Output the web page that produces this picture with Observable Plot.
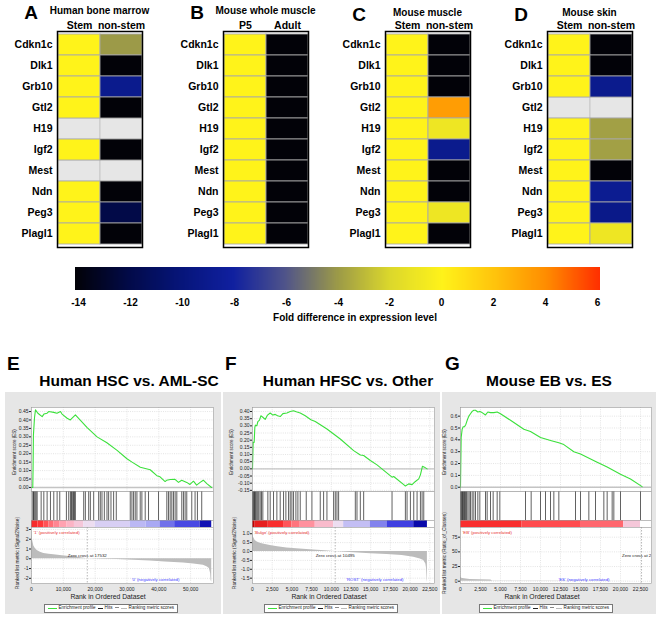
<!DOCTYPE html>
<html><head><meta charset="utf-8">
<script src="https://cdn.jsdelivr.net/npm/d3@7"></script>
<script src="https://cdn.jsdelivr.net/npm/@observablehq/plot@0.6"></script>
<style>
body{margin:0;background:#fff;}
#root{position:relative;width:661px;height:621px;overflow:hidden;background:#fff;font-family:"Liberation Sans",Arial,sans-serif;}
</style></head><body><div id="root"></div>
<script>
// ---------- heatmap data ----------
const genes = ["Cdkn1c","Dlk1","Grb10","Gtl2","H19","Igf2","Mest","Ndn","Peg3","Plagl1"];
const boneMarrowStem    = [0,0,0,0,null,0,null,0,0,0];
const boneMarrowNonStem = [-4,-14,-9,-14,null,-14,null,-14,-12,-14];
const wholeMuscleP5     = [0,0,0,0,0,0,0,0,0,0];
const wholeMuscleAdult  = [-14,-14,-14,-14,-14,-14,-14,-14,-14,-14];
const muscleStem        = [0,0,0,0,0,0,0,0,0,0];
const muscleNonStem     = [-14,-14,-14,3.4,-1,-9,-14,-14,-1,-14];
const skinStem          = [0,0,0,null,0,0,0,0,0,0];
const skinNonStem       = [-14,-14,-9,null,-3.8,-3.8,-14,-8.8,-9.2,-1];
const foldTicks = [-14,-12,-10,-8,-6,-4,-2,0,2,4,6];

// ---------- GSEA data ----------
const esE = [[0,0],[400,0],[500,0.12],[600,0.31],[800,0.37],[950,0.415],[1250,0.46],[2000,0.44],[3350,0.42],[3900,0.435],[4900,0.44],[5400,0.45],[7000,0.445],[8000,0.44],[9100,0.45],[9600,0.435],[11200,0.41],[12200,0.40],[13000,0.415],[13800,0.43],[14300,0.42],[17500,0.355],[20600,0.30],[23700,0.265],[26900,0.22],[30000,0.17],[31600,0.15],[34200,0.12],[37300,0.105],[39400,0.07],[40400,0.063],[42000,0.035],[42500,0.043],[43600,0.047],[45100,0.048],[46200,0.03],[47200,0.043],[48800,0.03],[49800,0.018],[50900,0.037],[51900,0.014],[53000,0.03],[54000,0.043],[55100,0.023],[56600,0]];
const hitsE = [420,630,840,1150,1460,1780,3030,3870,4910,5960,7000,8050,8880,10970,11700,12230,12540,12750,13060,13270,13480,13790,16410,16930,17970,18500,19540,21110,21630,22150,22890,23720,24240,24980,25810,26650,31040,31560,32080,32600,33130,34170,34690,35740,36780,39920,42530,43050,43580,44100,44620,45140,45670,47230,47760,48280,48800,50370,51410,52150,53500];
const metricE = [[0,3.0],[150,2.4],[400,1.8],[730,1.3],[1200,1.05],[1780,0.85],[2800,0.68],[3870,0.55],[5500,0.47],[7000,0.4],[9000,0.33],[11180,0.27],[14000,0.17],[16500,0.06],[17532,0],[22000,-0.04],[26860,-0.07],[32000,-0.14],[37300,-0.23],[42000,-0.32],[47760,-0.43],[51000,-0.53],[54030,-0.67],[55300,-0.85],[55900,-1.0],[56300,-1.5],[56430,-2.2],[56640,-2.4]];
const barE = [[0,2000,0.72],[2000,3900,0.66],[3900,5500,0.58],[5500,7000,0.5],[7000,9000,0.43],[9000,11200,0.35],[11200,13500,0.26],[13500,16400,0.15],[16400,20000,0.02],[20000,31000,-0.1],[31000,36000,-0.24],[36000,40400,-0.33],[40400,45000,-0.5],[45000,53000,-0.62],[53000,56640,-0.9]];
const zeroE = 17532;

const esF = [[0,0],[85,0.185],[212,0.185],[297,0.29],[381,0.305],[550,0.30],[678,0.33],[890,0.34],[1060,0.37],[1313,0.36],[1610,0.345],[1907,0.375],[2246,0.39],[2585,0.375],[2880,0.38],[3178,0.37],[3517,0.365],[3856,0.385],[4364,0.39],[4788,0.40],[5211,0.405],[5550,0.398],[6059,0.39],[6694,0.37],[7415,0.343],[7966,0.33],[9450,0.278],[11143,0.208],[12838,0.127],[13685,0.097],[14109,0.093],[14956,0.058],[15804,0.028],[17710,-0.058],[17922,-0.053],[19194,-0.11],[19405,-0.12],[19829,-0.105],[20253,-0.11],[20676,-0.088],[21100,-0.07],[21312,-0.042],[21566,0.018],[21820,0.012],[22160,0]];
const hitsF = [0,85,170,254,339,424,551,678,805,975,1144,1313,1949,2246,2669,3093,3517,3940,4237,4576,4788,5000,5211,5508,5762,6059,6822,7542,8601,9025,9449,10296,10508,10720,10931,13050,13262,13685,14109,17711,19405,19617,20041,20465,20889,21312,21524,21736];
const metricF = [[0,1.1],[127,0.8],[339,0.62],[600,0.54],[975,0.47],[1500,0.41],[2246,0.34],[3200,0.27],[4364,0.2],[6000,0.14],[7754,0.09],[9200,0.04],[10495,0],[12840,-0.07],[15000,-0.12],[17075,-0.17],[19000,-0.23],[20465,-0.32],[21300,-0.42],[21736,-0.5],[22000,-0.7],[22075,-0.9],[22160,-1.6],[22200,-1.75]];
const barF = [[0,340,1],[340,2000,0.8],[2000,3940,0.7],[3940,5000,0.57],[5000,6060,0.48],[6060,7965,0.4],[7965,10300,0.22],[10300,11570,0.02],[11570,14960,-0.2],[14960,17075,-0.45],[17075,20465,-0.65],[20465,22200,-0.95]];
const zeroF = 10495;

const esG = [[0,0],[83,0.42],[208,0.49],[333,0.51],[500,0.51],[667,0.53],[833,0.565],[1042,0.60],[1250,0.62],[1458,0.64],[1667,0.65],[1875,0.65],[2167,0.635],[2417,0.64],[2700,0.63],[3125,0.61],[3417,0.635],[3750,0.63],[4167,0.63],[4583,0.635],[5000,0.62],[6250,0.565],[7917,0.49],[8750,0.47],[10000,0.42],[11250,0.395],[12290,0.375],[12917,0.36],[14167,0.30],[15000,0.28],[17083,0.21],[18333,0.17],[20000,0.11],[21250,0.07],[22700,0.005]];
const hitsG = [0,83,167,250,333,417,500,625,750,917,1083,1250,1458,1667,1875,2167,2417,3125,3333,3750,4083,4583,4917,8125,8833,10000,10625,11250,11667,12292,14375,15000,16042,16875,17917,18333,18958,19167,20000,22500];
const metricG = [[0,7],[150,5],[500,4],[1200,3],[2500,2.5],[3800,2],[4000,0.4],[10000,0.2],[22630,0]];
const barG = [[0,7700,0.7],[7700,15000,0.6],[15000,20400,0.52],[20400,22500,0.15]];
const zeroG = 22630;

// ---------- helpers ----------
const root = document.getElementById("root");
const SANS = "'Liberation Sans', Arial, sans-serif";
function put(el, left, top) {
  el.style.position = "absolute"; el.style.left = left + "px"; el.style.top = top + "px";
  root.appendChild(el); return el;
}
function label(s, x, y, o = {}) {
  const d = document.createElement("div");
  d.textContent = s;
  const a = o.anchor || "middle";
  const tx = a === "start" ? "0" : a === "end" ? "-100%" : "-50%";
  Object.assign(d.style, {position: "absolute", left: x + "px", top: y + "px", whiteSpace: "nowrap",
    lineHeight: "1", fontFamily: SANS, fontSize: (o.size || 10) + "px", fontWeight: o.weight || "normal",
    color: o.color || "#000", transform: `translate(${tx},-50%)` + (o.rotate ? ` rotate(${o.rotate}deg)` : "")});
  root.appendChild(d); return d;
}
function box(x, y, w, h, bg) {
  const d = document.createElement("div");
  Object.assign(d.style, {position: "absolute", left: x + "px", top: y + "px", width: w + "px", height: h + "px", background: bg});
  root.appendChild(d); return d;
}

const foldColors = ["#020208","#020a48","#06157a","#1020a0","#50548a","#9c9a48","#dcd82c","#fff31a","#ffc40c","#ff8c00","#ff3000"];

// ---------- heatmaps ----------
function heatmap(letter, title, cols, v1, v2, frameLeft, titleY) {
  const data = genes.flatMap((g, i) => [{gene: g, col: cols[0], value: v1[i]}, {gene: g, col: cols[1], value: v2[i]}]);
  const W = 148;
  const p = Plot.plot({
    width: W, height: 250, marginLeft: 57, marginRight: W - 57 - 85, marginTop: 31, marginBottom: 3,
    style: {background: "transparent", fontFamily: SANS, fontSize: "10.5px", fontWeight: "bold", color: "#000"},
    x: {domain: cols, axis: "top", label: null, tickSize: 0, tickPadding: 3, padding: 0},
    y: {domain: genes, label: null, tickSize: 0, tickPadding: 5, padding: 0},
    color: {type: "linear", domain: [-14, 6], range: foldColors},
    marks: [
      Plot.cell(data.filter(d => d.value == null), {x: "col", y: "gene", fill: "#e6e6e6", stroke: "#c8c8c8", strokeWidth: 1}),
      Plot.cell(data.filter(d => d.value != null), {x: "col", y: "gene", fill: "value", stroke: "#a8a8a8", strokeWidth: 1, strokeOpacity: 0.85}),
      Plot.frame({stroke: "#000", strokeWidth: 1.5})
    ]
  });
  put(p, frameLeft - 57, 0);
  label(title, frameLeft + 42.5, titleY, {size: 10, weight: "bold"});
  label(letter, frameLeft - 26, titleY + 1, {size: 19, weight: "bold"});
}
heatmap("A", "Human bone marrow", ["Stem", "non-stem"], boneMarrowStem, boneMarrowNonStem, 57, 11);
heatmap("B", "Mouse whole muscle", ["P5", "Adult"], wholeMuscleP5, wholeMuscleAdult, 223, 11);
heatmap("C", "Mouse muscle", ["Stem", "non-stem"], muscleStem, muscleNonStem, 385, 12.5);
heatmap("D", "Mouse skin", ["Stem", "non-stem"], skinStem, skinNonStem, 547, 12.5);

// ---------- fold-difference colour bar ----------
const leg = Plot.legend({
  color: {type: "linear", domain: [-14.12, 6.12], range: foldColors, ticks: foldTicks, tickFormat: d => String(d), label: null},
  width: 661, height: 43, marginLeft: 75, marginRight: 61, marginTop: 0, marginBottom: 20,
  ticks: foldTicks, tickFormat: d => String(d), tickSize: 6, label: null,
  style: {background: "transparent", fontFamily: SANS, fontSize: "10px", fontWeight: "bold", color: "#000"}
});
leg.querySelectorAll(".tick line").forEach(e => e.remove());
put(leg, 0, 267);
label("Fold difference in expression level", 355, 318, {size: 10, weight: "bold"});

// ---------- GSEA panels ----------
const barColors = ["#0000a0","#3a3ae0","#a8a8f4","#ece0f4","#ffa8b8","#ff3434","#c00000"];
function gsea(c) {
  const W = c.gx1 - c.gx0, mL = c.fx0 - c.gx0, mR = c.gx1 - c.fx1;
  box(c.gx0, 392, W, 222, "#e6e6e6");
  label(c.letter, c.letterX, 363, {size: 19, weight: "bold", anchor: "start"});
  label(c.title, c.titleX, 381, {size: 15.5, weight: "bold"});
  const base = {width: W, marginLeft: mL, marginRight: mR,
    style: {background: "transparent", fontFamily: SANS, fontSize: "5px", color: "#222"}};
  const x = {domain: c.xDomain, label: null};
  const grid = {stroke: "#d2d2d2", strokeDasharray: "1,1.2", strokeWidth: 0.6};
  const fr = () => Plot.frame({stroke: "#9a9a9a", strokeWidth: 0.6});

  const es = Plot.plot({...base, height: 96, marginTop: 7, marginBottom: 5,
    x: {...x, axis: null},
    y: {domain: c.esDomain, ticks: c.esTicks, tickFormat: c.esFmt, tickSize: 2, tickPadding: 1, label: null},
    marks: [
      Plot.frame({fill: "white", stroke: "none"}),
      Plot.ruleX(c.xTicks, grid),
      Plot.ruleY(c.esTicks, grid),
      Plot.ruleY([0], {stroke: "#c4c4c4", strokeWidth: 1.4}),
      Plot.line(c.es, {x: d => d[0], y: d => d[1], stroke: "#3be03b", strokeWidth: 1.1}),
      fr()
    ]});
  put(es, c.gx0, 400);

  const hits = Plot.plot({...base, height: 29, marginTop: 0, marginBottom: 0,
    x: {...x, axis: null},
    marks: [
      Plot.frame({fill: "white", stroke: "none"}),
      Plot.ruleX(c.hits, {stroke: "#1e1e1e", strokeWidth: 0.7}),
      fr()
    ]});
  put(hits, c.gx0, 491);

  const bar = Plot.plot({...base, height: 7, marginTop: 0, marginBottom: 0,
    x: {...x, axis: null},
    color: {type: "linear", domain: [-1, 1], range: barColors},
    marks: [
      Plot.frame({fill: "white", stroke: "none"}),
      Plot.rect(c.bar, {x1: d => d[0], x2: d => d[1], fill: d => d[2]}),
      fr()
    ]});
  put(bar, c.gx0, 520);

  const rank = Plot.plot({...base, height: 73, marginTop: 0, marginBottom: 17,
    x: {...x, ticks: c.xTicks, tickFormat: d3.format(","), tickSize: 0, tickPadding: 4},
    y: {domain: c.rankDomain, ticks: c.rankTicks, tickFormat: c.rankFmt, tickSize: 2, tickPadding: 1, label: null},
    marks: [
      Plot.frame({fill: "white", stroke: "none"}),
      Plot.ruleX(c.xTicks, grid),
      Plot.ruleY(c.rankTicks, grid),
      Plot.areaY(c.metric, {x: d => d[0], y: d => d[1], fill: "#bcbcbc"}),
      Plot.ruleX([c.zero], {stroke: "#8a8a8a", strokeDasharray: "1.5,1.5", strokeWidth: 0.6}),
      Plot.text([c.zero], {x: d => d, text: d => "Zero cross at " + d, frameAnchor: "middle", fontSize: 4.4, fill: "#222", clip: true}),
      Plot.text([c.pos], {text: d => d, frameAnchor: "top-left", dx: 2, dy: 3.2, textAnchor: "start", fill: "#e83030", fontSize: 4.3}),
      Plot.text([c.neg], {x: d => d.at, text: d => d.t, frameAnchor: "bottom", dy: -3, textAnchor: "end", fill: "#3a3aff", fontSize: 4.3}),
      fr()
    ]});
  put(rank, c.gx0, 527);

  label("Enrichment score (ES)", c.esLabelX, 452, {size: 4.5, rotate: -90, color: "#222"});
  label(c.metricName, c.rankLabelX, 553, {size: 4.9, rotate: -90, color: "#222"});
  label("Rank in Ordered Dataset", c.xLabelX, 597, {size: 6.8, color: "#222"});

  // legend box
  const lg = document.createElement("div");
  Object.assign(lg.style, {position: "absolute", left: c.legendX + "px", top: "604px", transform: "translateX(-50%)",
    height: "7px", border: "0.7px solid #777", background: "#fff", display: "flex", alignItems: "center",
    padding: "0 3px", fontSize: "4.6px", fontFamily: SANS, whiteSpace: "nowrap", color: "#222", lineHeight: "1"});
  const sw = (w, h, col, mt) => `<span style="display:inline-block;width:${w}px;height:${h}px;background:${col};margin:${mt||0}px 1.5px 0 0"></span>`;
  lg.innerHTML = sw(9, 1.2, "#3be03b") + "<span>Enrichment profile</span>&nbsp;&nbsp;" +
    sw(5, 0.6, "#222") + "<span>Hits</span>&nbsp;&nbsp;" +
    `<span style="display:inline-block;width:4px;height:0.6px;background:#888;margin:0 2px 3px 0"></span>` +
    sw(6, 0.6, "#bbb") + "<span>Ranking metric scores</span>";
  root.appendChild(lg);
}

gsea({letter: "E", letterX: 7, title: "Human HSC vs. AML-SC", titleX: 129,
  gx0: 5, gx1: 221, fx0: 31, fx1: 213, xDomain: [0, 57200], xTicks: [0,10000,20000,30000,40000,50000],
  esDomain: [-0.024, 0.474], esTicks: [0,0.05,0.1,0.15,0.2,0.25,0.3,0.35,0.4,0.45], esFmt: d3.format(".2f"),
  rankDomain: [-2.53, 3.2], rankTicks: [-2,-1,0,1,2,3], rankFmt: d => String(d),
  es: esE, hits: hitsE, bar: barE, metric: metricE, zero: zeroE,
  pos: "'1' (positively correlated)", neg: {at: 46500, t: "'0' (negatively correlated)"},
  metricName: "Ranked list metric (Signal2Noise)", esLabelX: 15, rankLabelX: 18, xLabelX: 108, legendX: 111});

gsea({letter: "F", letterX: 225, title: "Human HFSC vs. Other", titleX: 348,
  gx0: 223, gx1: 440, fx0: 252, fx1: 434, xDomain: [0, 23100], xTicks: [0,2500,5000,7500,10000,12500,15000,17500,20000,22500],
  esDomain: [-0.158, 0.428], esTicks: [-0.15,-0.1,-0.05,0,0.05,0.1,0.15,0.2,0.25,0.3,0.35,0.4], esFmt: d => d3.format(".2f")(d).replace("−", "-"),
  rankDomain: [-1.8, 1.35], rankTicks: [-1.5,-1,-0.5,0,0.5,1], rankFmt: d => d3.format(".1f")(d).replace("−", "-"),
  es: esF, hits: hitsF, bar: barF, metric: metricF, zero: zeroF,
  pos: "'Bulge' (positively correlated)", neg: {at: 19165, t: "'ROST' (negatively correlated)"},
  metricName: "Ranked list metric (Signal2Noise)", esLabelX: 232, rankLabelX: 235, xLabelX: 329, legendX: 331});

gsea({letter: "G", letterX: 445, title: "Mouse EB vs. ES", titleX: 549,
  gx0: 442, gx1: 656, fx0: 460, fx1: 651, xDomain: [0, 23875], xTicks: [0,2500,5000,7500,10000,12500,15000,17500,20000,22500],
  esDomain: [-0.036, 0.673], esTicks: [0,0.1,0.2,0.3,0.4,0.5,0.6], esFmt: d3.format(".1f"),
  rankDomain: [-3.9, 91.5], rankTicks: [0,25,50,75], rankFmt: d => String(d),
  es: esG, hits: hitsG, bar: barG, metric: metricG, zero: zeroG,
  pos: "'EB' (positively correlated)", neg: {at: 18625, t: "'ES' (negatively correlated)"},
  metricName: "Ranked list metric (Ratio_of_Classes)", esLabelX: 445, rankLabelX: 445, xLabelX: 542, legendX: 546});
</script></body></html>
